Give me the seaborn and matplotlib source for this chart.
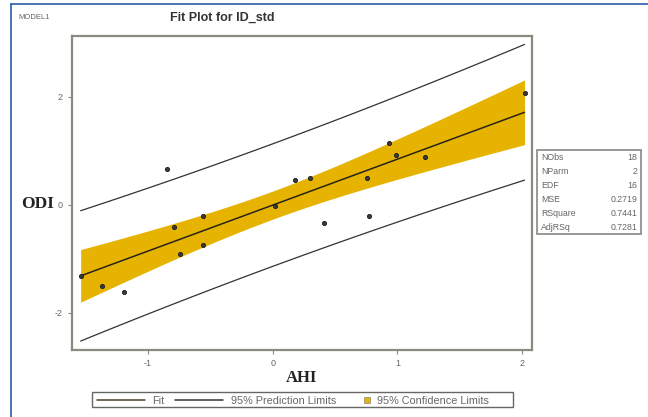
import numpy as np
import pandas as pd
import seaborn as sns
import matplotlib.pyplot as plt
from matplotlib.patches import Rectangle
from matplotlib.lines import Line2D

# standardized AHI / ODI values
ahi = [-1.54, -1.37, -1.19, -0.85, -0.79, -0.74, -0.56, -0.56, 0.02,
       0.18, 0.30, 0.41, 0.76, 0.77, 0.93, 0.99, 1.22, 2.02]
odi = [-1.32, -1.50, -1.61, 0.67, -0.41, -0.91, -0.21, -0.74, -0.03,
       0.45, 0.49, -0.33, 0.49, -0.20, 1.15, 0.92, 0.88, 2.08]

stat_names = ['NObs', 'NParm', 'EDF', 'MSE', 'RSquare', 'AdjRSq']
stat_values = ['18', '2', '16', '0.2719', '0.7441', '0.7281']
legend_labels = ['Fit', '95% Prediction Limits', '95% Confidence Limits']

xticks = [-1, 0, 1, 2]
yticks = [-2, 0, 2]

T_CRIT = 2.1199  # t(0.975, 16)
BAND = '#E6B400'
LINE = '#333333'
W, H = 648, 417


def px(x, y):
    # pixel position -> figure fraction
    return x / W, 1 - y / H


def main():
    df = pd.DataFrame({'AHI': ahi, 'ODI': odi})
    x = df['AHI'].to_numpy()
    y = df['ODI'].to_numpy()
    n = len(x)
    slope, icpt = np.polyfit(x, y, 1)
    resid = y - (icpt + slope * x)
    s = np.sqrt((resid ** 2).sum() / (n - 2))
    sxx = ((x - x.mean()) ** 2).sum()

    grid = np.linspace(x.min(), x.max(), 100)
    fit = icpt + slope * grid
    se_mean = s * np.sqrt(1 / n + (grid - x.mean()) ** 2 / sxx)
    se_pred = s * np.sqrt(1 + 1 / n + (grid - x.mean()) ** 2 / sxx)
    band = pd.DataFrame({'x': grid, 'fit': fit,
                         'lcl': fit - T_CRIT * se_mean, 'ucl': fit + T_CRIT * se_mean,
                         'lpl': fit - T_CRIT * se_pred, 'upl': fit + T_CRIT * se_pred})

    sns.set_style('white')
    plt.rcParams['font.family'] = ['Liberation Sans', 'DejaVu Sans']
    plt.rcParams['axes.unicode_minus'] = False
    fig = plt.figure(figsize=(W / 100, H / 100), dpi=100)
    ax = fig.add_axes([0.111, 0.161, 0.71, 0.753])

    ax.fill_between(band['x'], band['lcl'], band['ucl'], color=BAND, lw=0)
    sns.lineplot(data=band, x='x', y='fit', ax=ax, color='#2a2418', lw=1.1)
    sns.lineplot(data=band, x='x', y='upl', ax=ax, color=LINE, lw=0.9)
    sns.lineplot(data=band, x='x', y='lpl', ax=ax, color=LINE, lw=0.9)
    sns.scatterplot(data=df, x='AHI', y='ODI', ax=ax, s=9, color='#3a3a3a',
                    edgecolor='#1a1a1a', linewidth=0.6, zorder=5)

    ax.set_xlim(-1.61, 2.08)
    ax.set_ylim(-2.69, 3.13)
    ax.set_xticks(xticks)
    ax.set_yticks(yticks)
    ax.tick_params(direction='out', length=3, width=0.8, colors='#888888',
                   labelsize=6.5, labelcolor='#666666', left=True, bottom=True)
    for sp in ax.spines.values():
        sp.set_color('#8a8a80')
        sp.set_linewidth(1.6)
    ax.set_xlabel('')
    ax.set_ylabel('')

    fig.text(0.466, 0.093, 'AHI', family='Liberation Serif', weight='bold',
             fontsize=12, ha='center', va='center', color='#222222')
    fig.text(0.033, 0.51, 'ODI', family='Liberation Serif', weight='bold',
             fontsize=12.5, ha='left', va='center', color='#222222')
    fig.text(0.343, 0.957, 'Fit Plot for ID_std', weight='bold', fontsize=9,
             ha='center', va='center', color='#333333')
    fig.text(0.029, 0.957, 'MODEL1', fontsize=5.5, ha='left', va='center',
             color='#666666')

    # fit statistics box
    bx0, by0 = px(537, 234)
    bw, bh = 104 / W, 84 / H
    fig.patches.append(Rectangle((bx0, by0), bw, bh, transform=fig.transFigure,
                                 fill=False, ec='#888888', lw=1.2))
    for i, (name, val) in enumerate(zip(stat_names, stat_values)):
        yy = by0 + bh - (i + 0.55) * bh / 6
        fig.text(bx0 + 0.006, yy, name, fontsize=6.3, color='#666666', va='center')
        fig.text(bx0 + bw - 0.006, yy, val, fontsize=6.3, color='#666666',
                 va='center', ha='right')

    # legend strip (drawn by hand to keep SAS-like spacing)
    lx0, ly0 = px(92, 407)
    fig.patches.append(Rectangle((lx0, ly0), 421 / W, 15 / H, transform=fig.transFigure,
                                 fill=False, ec='#666666', lw=1.0))
    ymid = 1 - 399.5 / H
    for (x0, x1), col in [((97, 145), '#4a3f30'), ((175, 223), LINE)]:
        fig.lines.append(Line2D([x0 / W, x1 / W], [ymid, ymid],
                                transform=fig.transFigure, color=col, lw=1.1))
    fig.patches.append(Rectangle((364 / W, ymid - 3 / H), 6 / W, 6 / H,
                                 transform=fig.transFigure, fc=BAND,
                                 ec='#888888', lw=0.5))
    for xt, lab in zip([152, 231, 377], legend_labels):
        fig.text(xt / W, ymid, lab, fontsize=7.8, color='#666666',
                 va='center_baseline')

    # blue screenshot border
    fig.lines.append(Line2D([0.017, 0.017], [0, 0.99], transform=fig.transFigure,
                            color='#2a5ea8', lw=1.2))
    fig.lines.append(Line2D([0.017, 1], [0.99, 0.99], transform=fig.transFigure,
                            color='#2a5ea8', lw=1.2))

    fig.savefig('out.png', dpi=100)


if __name__ == '__main__':
    main()
